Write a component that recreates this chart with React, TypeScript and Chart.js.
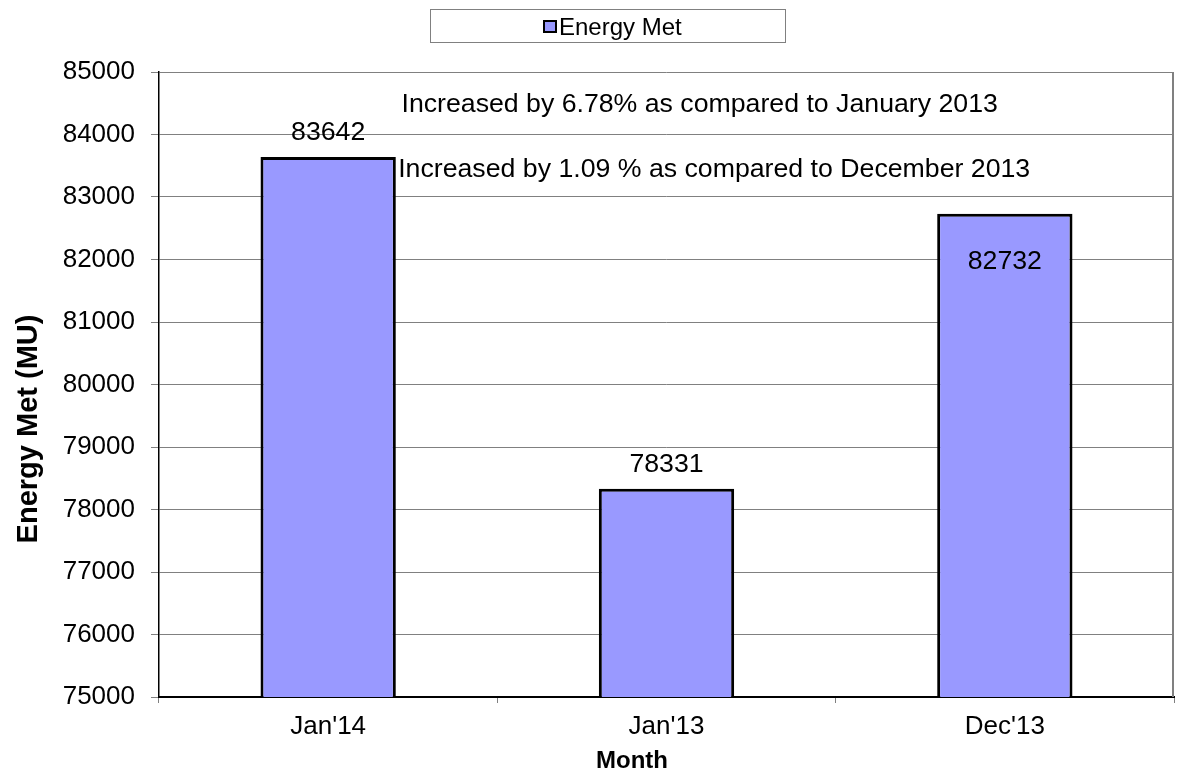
import { useEffect, useRef } from "react";
import { Chart, registerables } from "chart.js";

Chart.register(...registerables);

const categories = ["Jan'14", "Jan'13", "Dec'13"];
const energyMet = [83642, 78331, 82732];
const seriesLabel = "Energy Met";
const yMin = 75000;
const yMax = 85000;
const yStep = 1000;
const xTitle = "Month";
const yTitle = "Energy Met (MU)";
const notes = [
  "Increased by 6.78% as compared to January 2013",
  "Increased by 1.09 % as compared to December 2013",
];

const FONT = "'Liberation Sans', Arial, sans-serif";
const BAR_FILL = "#9999FF";
const labelInside = [false, false, true];

const overlay = {
  id: "overlay",
  beforeDatasetsDraw(chart: any) {
    const { ctx, chartArea: a } = chart;
    ctx.save();
    ctx.strokeStyle = "#808080";
    ctx.lineWidth = 2;
    ctx.beginPath();
    ctx.moveTo(a.right - 1, a.top);
    ctx.lineTo(a.right - 1, a.bottom);
    ctx.stroke();
    ctx.restore();
  },
  afterDraw(chart: any) {
    const { ctx } = chart;
    const xs = chart.scales.x;
    const ys = chart.scales.y;
    ctx.save();
    ctx.fillStyle = "#000";
    ctx.font = `26.7px ${FONT}`;
    ctx.textBaseline = "alphabetic";
    ctx.textAlign = "center";
    energyMet.forEach((v, i) => {
      const px = xs.getPixelForValue(i);
      const top = ys.getPixelForValue(v);
      const py = labelInside[i] ? top + 55 : top - 17;
      ctx.fillText(String(v), px, py);
    });
    ctx.fillText(notes[0], xs.getPixelForValue(1.098), ys.getPixelForValue(84360));
    ctx.textAlign = "left";
    ctx.fillText(notes[1], xs.getPixelForValue(0.207), ys.getPixelForValue(83325));

    // axis titles
    ctx.textAlign = "center";
    ctx.font = `bold 24px ${FONT}`;
    ctx.fillText(xTitle, 632, 768);
    ctx.save();
    ctx.translate(37, 429);
    ctx.rotate(-Math.PI / 2);
    ctx.font = `bold 29px ${FONT}`;
    ctx.fillText(yTitle, 0, 0);
    ctx.restore();

    // legend box
    const lx = 430, ly = 9, lw = 355, lh = 33;
    ctx.strokeStyle = "#808080";
    ctx.lineWidth = 1;
    ctx.strokeRect(lx + 0.5, ly + 0.5, lw, lh);
    ctx.fillStyle = BAR_FILL;
    ctx.fillRect(543, 20, 14, 13);
    ctx.strokeStyle = "#000";
    ctx.lineWidth = 2;
    ctx.strokeRect(544, 21, 12, 11);
    ctx.fillStyle = "#000";
    ctx.font = `24px ${FONT}`;
    ctx.textAlign = "left";
    ctx.fillText(seriesLabel, 559, 35);
    ctx.restore();
  },
};

export default function App() {
  const ref = useRef<HTMLCanvasElement>(null);
  useEffect(() => {
    document.body.style.margin = "0";
    const chart = new Chart(ref.current as HTMLCanvasElement, {
      type: "bar",
      data: {
        labels: categories,
        datasets: [
          {
            label: seriesLabel,
            data: energyMet,
            backgroundColor: BAR_FILL,
            borderColor: "#000",
            borderWidth: 3,
            borderSkipped: false,
            barPercentage: 0.4,
            categoryPercentage: 1,
          },
        ],
      },
      options: {
        animation: false,
        responsive: false,
        devicePixelRatio: 1,
        layout: { padding: { top: 72, right: 3, left: 0, bottom: 0 } },
        plugins: {
          legend: { display: false },
          tooltip: { enabled: false },
        },
        scales: {
          x: {
            offset: true,
            grid: {
              offset: true,
              drawOnChartArea: false,
              drawTicks: true,
              tickLength: 6,
              tickColor: "#808080",
            },
            border: { color: "#000", width: 2 },
            ticks: {
              color: "#000",
              font: { family: FONT, size: 26 },
              padding: 8,
              maxRotation: 0,
            },
            afterFit(scale: any) {
              scale.height = 76;
            },
          },
          y: {
            min: yMin,
            max: yMax,
            ticks: {
              stepSize: yStep,
              color: "#000",
              font: { family: FONT, size: 26 },
              padding: 16,
              callback: (v: any) => String(v),
            },
            grid: {
              color: "#808080",
              tickColor: "#808080",
              tickLength: 8,
              lineWidth: 1,
            },
            border: { color: "#000", width: 1.5 },
            afterFit(scale: any) {
              scale.width = 159;
            },
          },
        },
      },
      plugins: [overlay],
    });
    return () => chart.destroy();
  }, []);
  return (
    <div style={{ width: 1177, height: 773 }}>
      <canvas ref={ref} width={1177} height={773} />
    </div>
  );
}
